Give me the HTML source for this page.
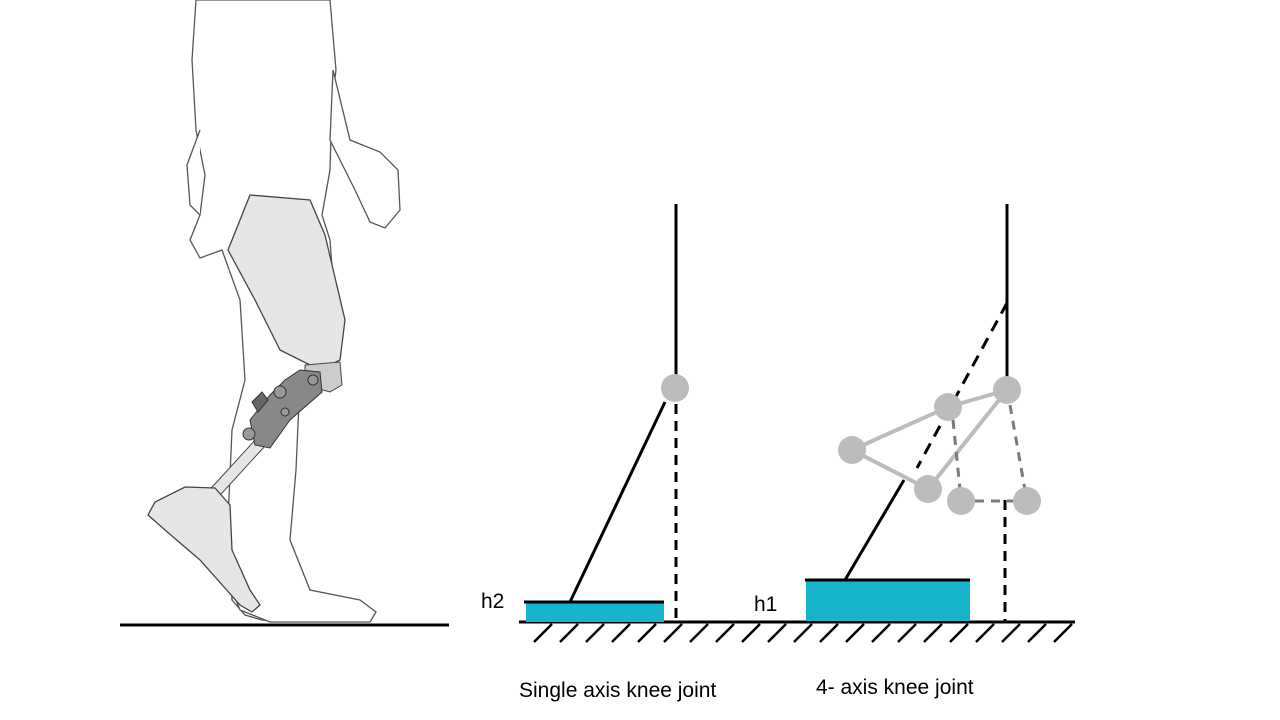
<!DOCTYPE html>
<html><head><style>body{margin:0;background:#fff}svg{display:block}text{font-family:"Liberation Sans",sans-serif}</style></head><body>
<svg width="1280" height="720" viewBox="0 0 1280 720" xmlns="http://www.w3.org/2000/svg">
<!-- figure -->
<g stroke="#555" stroke-width="1.3" fill="#fff">
<path d="M196 0 L192 60 L196 130 L205 175 L200 215 L190 240 L200 258 L222 250 L240 300 L245 380 L232 430 L228 520 L232 600 L245 615 L262 620 L280 622 L290 610 L285 540 L290 470 L300 400 L310 380 L330 370 L335 310 L330 240 L322 215 L330 170 L332 100 L336 70 L330 0 Z"/>
<path d="M333 70 L350 140 L380 152 L398 170 L400 210 L385 228 L370 222 L355 190 L330 140 Z"/>
<path d="M200 130 L187 165 L190 205 L200 215"/>
<path d="M300 380 L296 470 L290 540 L310 590 L360 600 L376 612 L370 622 L270 622 L240 610 L232 590"/>
</g>
<path d="M250 195 L310 200 L325 235 L345 320 L340 360 L320 370 L280 350 L255 300 L228 250 Z" fill="#e6e6e6" stroke="#444" stroke-width="1.3"/>
<path d="M305 365 L340 362 L342 385 L330 392 L305 385 Z" fill="#ccc" stroke="#444"/>
<path d="M257 438 L265 446 L212 504 L203 497 Z" fill="#e6e6e6" stroke="#444"/>
<path d="M300 370 L320 372 L322 392 L290 420 L270 448 L255 445 L250 420 L270 395 L285 380 Z" fill="#888" stroke="#333"/>
<path d="M252 402 L262 392 L268 400 L258 412 Z" fill="#666" stroke="#333"/>
<circle cx="249" cy="434" r="6" fill="#999" stroke="#333"/>
<circle cx="280" cy="392" r="6" fill="#999" stroke="#333"/>
<circle cx="285" cy="412" r="4" fill="#999" stroke="#333"/>
<circle cx="313" cy="380" r="5" fill="#999" stroke="#333"/>
<path d="M185 487 L215 488 L230 505 L232 550 L250 590 L260 605 L252 612 L240 605 L200 560 L165 530 L148 515 L155 502 Z" fill="#e6e6e6" stroke="#444" stroke-width="1.3"/>
<line x1="120" y1="625" x2="449" y2="625" stroke="#000" stroke-width="3"/>
<!-- ground -->
<line x1="519" y1="622" x2="1075" y2="622" stroke="#000" stroke-width="3"/>
<g stroke="#000" stroke-width="2.5">
<path d="M552 624 l-18 18 M578 624 l-18 18 M604 624 l-18 18 M630 624 l-18 18 M656 624 l-18 18 M682 624 l-18 18 M708 624 l-18 18 M734 624 l-18 18 M760 624 l-18 18 M786 624 l-18 18 M812 624 l-18 18 M838 624 l-18 18 M864 624 l-18 18 M890 624 l-18 18 M916 624 l-18 18 M942 624 l-18 18 M968 624 l-18 18 M994 624 l-18 18 M1020 624 l-18 18 M1046 624 l-18 18 M1072 624 l-18 18"/>
</g>
<!-- left diagram -->
<rect x="526" y="602" width="138" height="20" fill="#17b4cd"/>
<line x1="524" y1="602" x2="664" y2="602" stroke="#000" stroke-width="3"/>
<line x1="676" y1="204" x2="676" y2="380" stroke="#000" stroke-width="3"/>
<line x1="665" y1="402" x2="570" y2="602" stroke="#000" stroke-width="3"/>
<line x1="676" y1="404" x2="676" y2="622" stroke="#000" stroke-width="3" stroke-dasharray="10,7"/>
<circle cx="675" cy="388" r="14" fill="#bcbcbc"/>
<!-- right diagram -->
<rect x="806" y="580" width="164" height="41" fill="#17b4cd"/>
<line x1="805" y1="580" x2="970" y2="580" stroke="#000" stroke-width="3"/>
<line x1="1007" y1="204" x2="1007" y2="380" stroke="#000" stroke-width="3"/>
<line x1="1007" y1="303" x2="917" y2="468" stroke="#000" stroke-width="3" stroke-dasharray="12,8"/>
<line x1="904" y1="480" x2="845" y2="580" stroke="#000" stroke-width="3"/>
<line x1="1005" y1="500" x2="1005" y2="622" stroke="#000" stroke-width="3" stroke-dasharray="10,7"/>
<g stroke="#bcbcbc" stroke-width="4" fill="none">
<path d="M1007 390 L948 407 L852 450 L928 489 Z"/>
</g>
<g stroke="#7a7a7a" stroke-width="3" stroke-dasharray="9,7">
<line x1="953" y1="420" x2="960" y2="490"/>
<line x1="1010" y1="405" x2="1025" y2="490"/>
<line x1="975" y1="501" x2="1013" y2="501"/>
</g>
<g fill="#bcbcbc">
<circle cx="1007" cy="390" r="14"/><circle cx="948" cy="407" r="14"/><circle cx="852" cy="450" r="14"/>
<circle cx="928" cy="489" r="14"/><circle cx="961" cy="501" r="14"/><circle cx="1027" cy="501" r="14"/>
</g>
<text x="481" y="608" font-size="21">h2</text>
<text x="754" y="611" font-size="21">h1</text>
<text x="519" y="697" font-size="21">Single axis knee joint</text>
<text x="816" y="694" font-size="21">4- axis knee joint</text>
</svg>
</body></html>
